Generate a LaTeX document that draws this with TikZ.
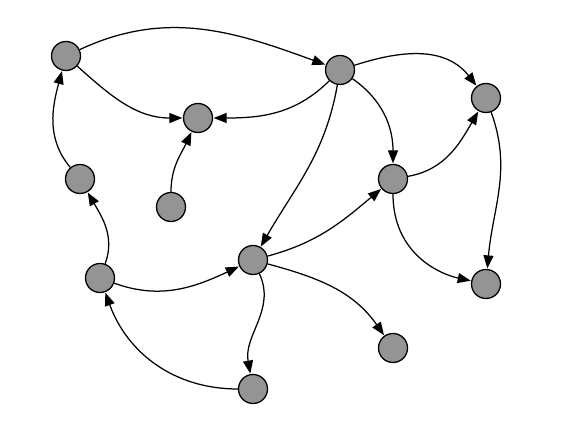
\documentclass[tikz,border=0pt]{standalone}
\usetikzlibrary{arrows.meta}
\begin{document}
\begin{tikzpicture}[x=1pt,y=1pt,
  vtx/.style={circle,draw=black,line width=1.3pt,fill=black!42,minimum size=29pt,inner sep=0pt},
  edge/.style={line width=1.25pt,-{Triangle[length=13pt,width=10pt]},shorten >=0.5pt}]
\useasboundingbox (0,0) rectangle (576,433);
\node[vtx] (A) at (66,377) {};
\node[vtx] (B) at (340,363) {};
\node[vtx] (C) at (486,335) {};
\node[vtx] (D) at (198,315) {};
\node[vtx] (E) at (80,254) {};
\node[vtx] (F) at (171,226) {};
\node[vtx] (G) at (393,254) {};
\node[vtx] (H) at (253,173) {};
\node[vtx] (I) at (100,155) {};
\node[vtx] (J) at (486,149) {};
\node[vtx] (K) at (393,85) {};
\node[vtx] (L) at (253,44) {};
\draw[edge] (A) to[out=25,in=160] (B);
\draw[edge] (A) to[out=-42,in=180] (D);
\draw[edge] (B) to[out=-135,in=0] (D);
\draw[edge] (F) to[out=90,in=-115] (D);
\draw[edge] (E) to[out=130,in=-105] (A);
\draw[edge] (I) to[out=70,in=-60] (E);
\draw[edge] (I) to[out=-20,in=-155] (H);
\draw[edge] (L) to[out=180,in=-70] (I);
\draw[edge] (H) to[out=-65,in=100] (L);
\draw[edge] (H) to[out=-15,in=125] (K);
\draw[edge] (H) to[out=15,in=-140] (G);
\draw[edge] (B) to[out=-100,in=60] (H);
\draw[edge] (B) to[out=-35,in=90] (G);
\draw[edge] (B) to[out=18,in=128,out looseness=0.9,in looseness=1.1] (C);
\draw[edge] (G) to[out=10,in=-120] (C);
\draw[edge] (C) to[out=-70,in=85] (J);
\draw[edge] (G) to[out=-90,in=168,out looseness=1.3,in looseness=0.7] (J);
\end{tikzpicture}
\end{document}
